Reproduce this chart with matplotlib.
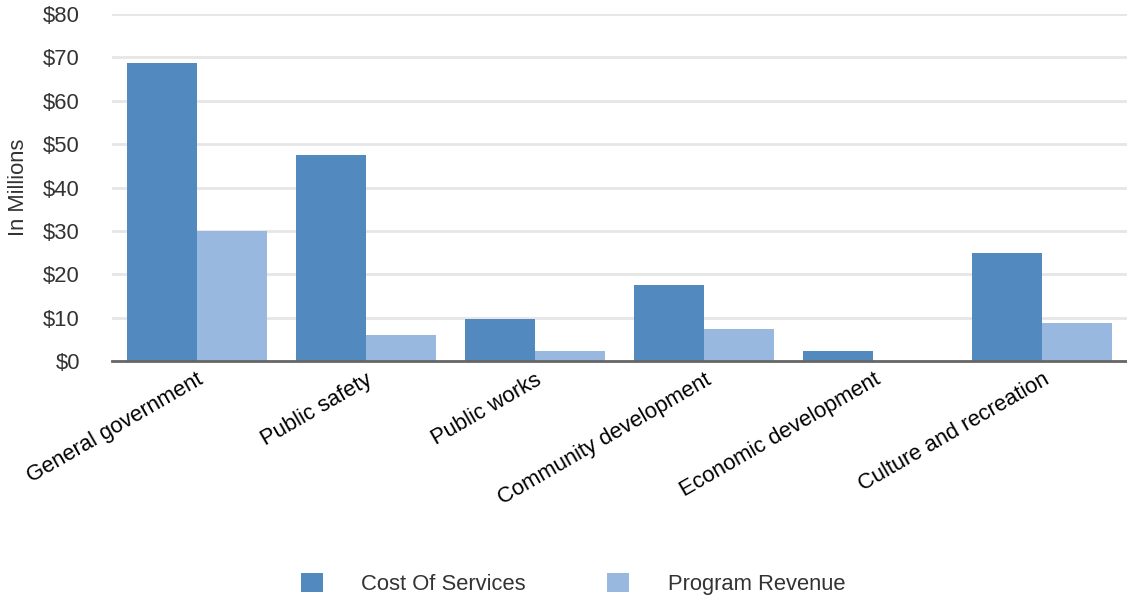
import matplotlib
matplotlib.use("Agg")
import matplotlib.pyplot as plt
import numpy as np
from matplotlib.patches import Patch
from matplotlib.ticker import FuncFormatter

categories = ["General government", "Public safety", "Public works",
              "Community development", "Economic development", "Culture and recreation"]
cost_of_services = [68.7, 47.5, 9.7, 17.5, 2.3, 24.9]
program_revenue = [30.0, 6.0, 2.3, 7.4, 0.0, 8.8]
y_ticks = [0, 10, 20, 30, 40, 50, 60, 70, 80]

dark_blue = "#5289bf"
light_blue = "#98b8e0"
text_color = "#333333"
fs = 15.8

plt.rcParams["font.family"] = ["Liberation Sans", "DejaVu Sans"]

fig = plt.figure(figsize=(11.27, 6.01), dpi=100)
ax = fig.add_axes([112 / 1127, 1 - 361 / 601, 1 - 112 / 1127, (361 - 14) / 601])

x = np.arange(len(categories))
w = 70 / 169.2
ax.bar(x - w / 2, cost_of_services, width=w, color=dark_blue, zorder=3)
ax.bar(x + w / 2, program_revenue, width=w, color=light_blue, zorder=3)

ax.set_xlim(-0.5, len(categories) - 0.5)
ax.set_ylim(0, 80)
ax.set_yticks(y_ticks)
ax.yaxis.set_major_formatter(FuncFormatter(lambda v, p: f"${v:.0f}"))
ax.grid(axis="y", color="#e6e6e6", linewidth=2, zorder=0)
ax.set_axisbelow(True)

for s in ["top", "right", "left"]:
    ax.spines[s].set_visible(False)
ax.spines["bottom"].set_color("#666666")
ax.spines["bottom"].set_linewidth(2)
ax.spines["bottom"].set_zorder(4)

ax.tick_params(axis="y", length=0, pad=23, labelsize=fs, labelcolor=text_color)
ax.tick_params(axis="x", length=0, pad=6, labelsize=fs, labelcolor="#000000")

ax.set_xticks(x)
ax.set_xticklabels(categories, rotation=30, ha="right", rotation_mode="anchor")

ax.set_ylabel("In Millions", fontsize=fs, color=text_color)
ax.yaxis.set_label_coords(-0.082, 0.5)

handles = [Patch(facecolor=dark_blue, edgecolor="none"),
           Patch(facecolor=light_blue, edgecolor="none")]
fig.legend(handles, ["Cost Of Services", "Program Revenue"], loc="center",
           bbox_to_anchor=(573 / 1127, 1 - 584 / 601), ncol=2, frameon=False,
           fontsize=fs, labelcolor=text_color, handlelength=1.0, handleheight=1.0,
           handletextpad=1.75, columnspacing=3.7)

fig.savefig("out.png", dpi=100)
